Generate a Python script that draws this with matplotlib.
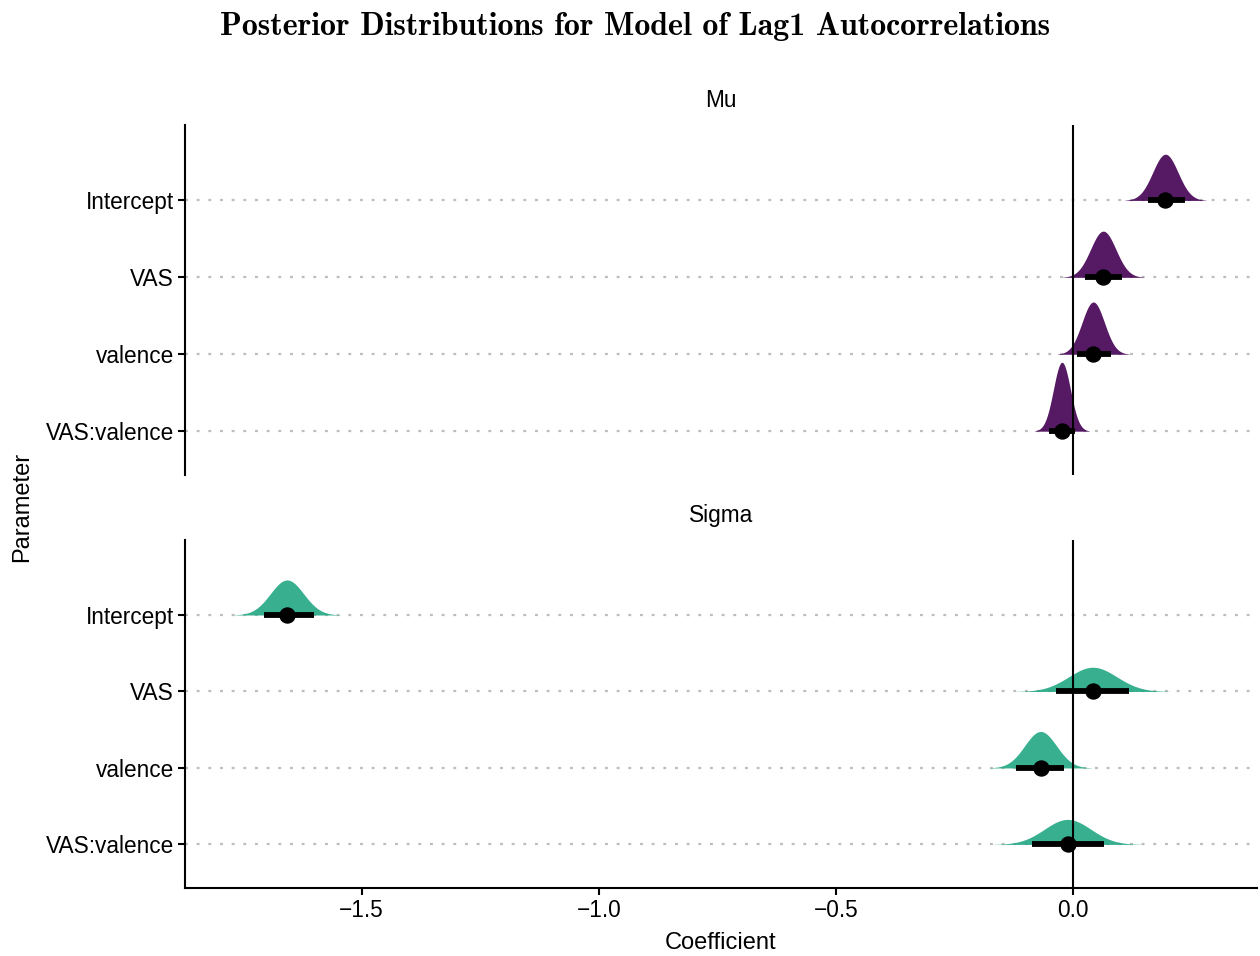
import os
import numpy as np
import matplotlib as mpl
import matplotlib.pyplot as plt
from matplotlib.font_manager import FontProperties

plt.rcParams["font.family"] = ["Liberation Sans", "DejaVu Sans"]

params = ["Intercept", "VAS", "valence", "VAS:valence"]

# posterior summaries per parameter: median, interval, posterior sd
mu_median = [0.194, 0.063, 0.042, -0.024]
mu_lower = [0.157, 0.025, 0.008, -0.051]
mu_upper = [0.236, 0.103, 0.080, 0.004]
mu_sd = [0.0267, 0.0267, 0.0236, 0.0179]

sigma_median = [-1.657, 0.041, -0.069, -0.012]
sigma_lower = [-1.705, -0.036, -0.121, -0.087]
sigma_upper = [-1.601, 0.118, -0.019, 0.064]
sigma_sd = [0.035, 0.0506, 0.0336, 0.049]

xticks = [-1.5, -1.0, -0.5, 0.0]

purple = "#440154"
green = "#22A884"
dens_scale = 0.0402  # density height (rows) per unit of pdf


def draw_panel(ax, median, lower, upper, sd, color, title):
    rows = np.arange(len(params))[::-1] + 1
    for row in rows:
        ax.axhline(row, color="#bdbdbd", lw=1.6, ls=(0, (1.3, 3.95)), zorder=0)
    for row, m, lo, hi, s in zip(rows, median, lower, upper, sd):
        x = np.linspace(m - 3.2 * s, m + 3.2 * s, 400)
        pdf = np.exp(-0.5 * ((x - m) / s) ** 2) / (s * np.sqrt(2 * np.pi))
        ax.fill_between(x, row, row + dens_scale * pdf, color=color,
                        alpha=0.9, lw=0, zorder=2)
        ax.plot([lo, hi], [row, row], color="black", lw=4.2,
                solid_capstyle="butt", zorder=4)
        ax.plot(m, row, "o", color="black", ms=10.8, zorder=5)
    ax.axvline(0, color="black", lw=1.5, zorder=3)
    ax.set_yticks(rows)
    ax.set_yticklabels(params)
    ax.set_ylim(0.43, 4.98)
    ax.set_xlim(-1.872, 0.387)
    for side in ["top", "right"]:
        ax.spines[side].set_visible(False)
    ax.spines["left"].set_linewidth(1.5)
    ax.spines["bottom"].set_linewidth(1.5)
    ax.tick_params(axis="both", labelsize=16.3, width=1.5, length=5,
                   color="black", labelcolor="black", pad=3)
    ax.text(0.5, 1.07, title, transform=ax.transAxes, ha="center",
            va="center", fontsize=16.3)


fig = plt.figure(figsize=(12.6, 9.56), dpi=100)
ax_mu = fig.add_axes([0.1468, 0.5031, 0.8508, 0.3661])
ax_sig = fig.add_axes([0.1468, 0.0711, 0.8508, 0.3640])

draw_panel(ax_mu, mu_median, mu_lower, mu_upper, mu_sd, purple, "Mu")
draw_panel(ax_sig, sigma_median, sigma_lower, sigma_upper, sigma_sd, green, "Sigma")

ax_mu.spines["bottom"].set_visible(False)
ax_mu.tick_params(axis="x", bottom=False, labelbottom=False)
ax_sig.set_xticks(xticks)
ax_sig.set_xticklabels([f"{t:.1f}".replace("-", "\u2212") for t in xticks])
ax_sig.set_xlabel("Coefficient", fontsize=17, labelpad=7)

fig.text(0.0175, 0.47, "Parameter", rotation=90, ha="center", va="center",
         fontsize=17)

title_font = FontProperties(fname=os.path.join(mpl.get_data_path(), "fonts", "ttf", "cmb10.ttf"))
fig.text(0.504, 0.972, "Posterior Distributions for Model of Lag1 Autocorrelations",
         ha="center", va="center", fontproperties=title_font, fontsize=23)

fig.savefig("out.png", dpi=100)
